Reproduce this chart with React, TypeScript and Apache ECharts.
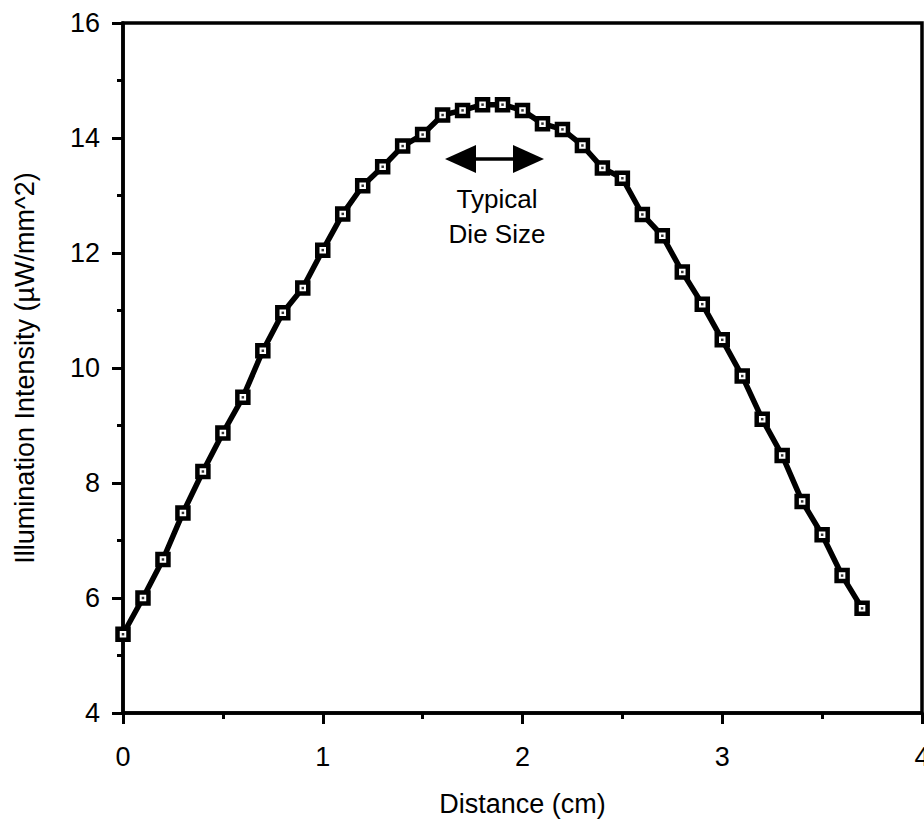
import React, { useEffect, useRef } from "react";
import * as echarts from "echarts";

const distances = [
  0, 0.1, 0.2, 0.3, 0.4, 0.5, 0.6, 0.7, 0.8, 0.9,
  1.0, 1.1, 1.2, 1.3, 1.4, 1.5, 1.6, 1.7, 1.8, 1.9,
  2.0, 2.1, 2.2, 2.3, 2.4, 2.5, 2.6, 2.7, 2.8, 2.9,
  3.0, 3.1, 3.2, 3.3, 3.4, 3.5, 3.6, 3.7,
];
const intensity = [
  5.37, 6.0, 6.67, 7.48, 8.2, 8.87, 9.49, 10.3, 10.96, 11.39,
  12.05, 12.68, 13.17, 13.5, 13.86, 14.06, 14.4, 14.48, 14.58, 14.58,
  14.48, 14.25, 14.15, 13.87, 13.48, 13.3, 12.67, 12.3, 11.67, 11.11,
  10.49, 9.86, 9.11, 8.48, 7.68, 7.1, 6.39, 5.82,
];

const xTitle = "Distance (cm)";
const yTitle = "Illumination Intensity (\u00b5W/mm^2)";
const annotation = "Typical\nDie Size";

const FONT = "'Liberation Sans', Arial, Helvetica, sans-serif";

export default function App() {
  const ref = useRef<HTMLDivElement>(null);
  useEffect(() => {
    if (!ref.current) return;
    const chart = echarts.init(ref.current, null, { renderer: "svg" });
    const points = distances.map((d, i) => [d, intensity[i]]);
    chart.setOption({
      animation: false,
      backgroundColor: "#fff",
      textStyle: { fontFamily: FONT },
      grid: {
        left: 123,
        right: 2,
        top: 23,
        bottom: 106,
        containLabel: false,
        outerBoundsMode: "none",
        show: true,
        borderColor: "#000",
        borderWidth: 3.5,
      },
      xAxis: {
        type: "value",
        min: 0,
        max: 4,
        interval: 1,
        name: xTitle,
        nameLocation: "middle",
        nameGap: 77,
        nameTextStyle: { fontSize: 27, color: "#000", fontFamily: FONT },
        axisLine: { show: true, onZero: false, lineStyle: { color: "#000", width: 3.5 } },
        axisTick: { show: true, inside: false, length: 11, lineStyle: { color: "#000", width: 3 } },
        minorTick: { show: true, splitNumber: 2, length: 6, lineStyle: { color: "#000", width: 3 } },
        splitLine: { show: false },
        axisLabel: { fontSize: 27, color: "#000", margin: 30, fontFamily: FONT },
      },
      yAxis: {
        type: "value",
        min: 4,
        max: 16,
        interval: 2,
        name: yTitle,
        nameLocation: "middle",
        nameGap: 85,
        nameTextStyle: { fontSize: 27, color: "#000", fontFamily: FONT },
        axisLine: { show: true, onZero: false, lineStyle: { color: "#000", width: 3.5 } },
        axisTick: { show: true, inside: false, length: 11, lineStyle: { color: "#000", width: 3 } },
        minorTick: { show: true, splitNumber: 2, length: 6, lineStyle: { color: "#000", width: 3 } },
        splitLine: { show: false },
        axisLabel: { fontSize: 27, color: "#000", margin: 23, fontFamily: FONT },
      },
      series: [
        {
          type: "line",
          data: points,
          showAllSymbol: true,
          symbol: "rect",
          symbolSize: 11,
          lineStyle: { color: "#000", width: 5.5 },
          itemStyle: { color: "#fff", borderColor: "#000", borderWidth: 4.5 },
          z: 2,
        },
        {
          type: "scatter",
          data: points,
          symbol: "rect",
          symbolSize: 2.5,
          itemStyle: { color: "#000" },
          z: 3,
        },
      ],
      graphic: [
        {
          type: "line",
          shape: { x1: 470, y1: 159, x2: 520, y2: 159 },
          style: { stroke: "#000", lineWidth: 3.5 },
        },
        {
          type: "polygon",
          shape: { points: [[445, 159], [476, 145], [476, 173]] },
          style: { fill: "#000" },
        },
        {
          type: "polygon",
          shape: { points: [[544, 159], [513, 145], [513, 173]] },
          style: { fill: "#000" },
        },
        {
          type: "text",
          x: 497,
          y: 181,
          style: {
            text: annotation,
            fontSize: 26,
            lineHeight: 35,
            fontFamily: FONT,
            fill: "#000",
            textAlign: "center",
            textVerticalAlign: "top",
          },
        },
      ],
    });
    return () => chart.dispose();
  }, []);
  return <div ref={ref} style={{ width: 924, height: 819, position: "absolute", left: 0, top: 0 }} />;
}
